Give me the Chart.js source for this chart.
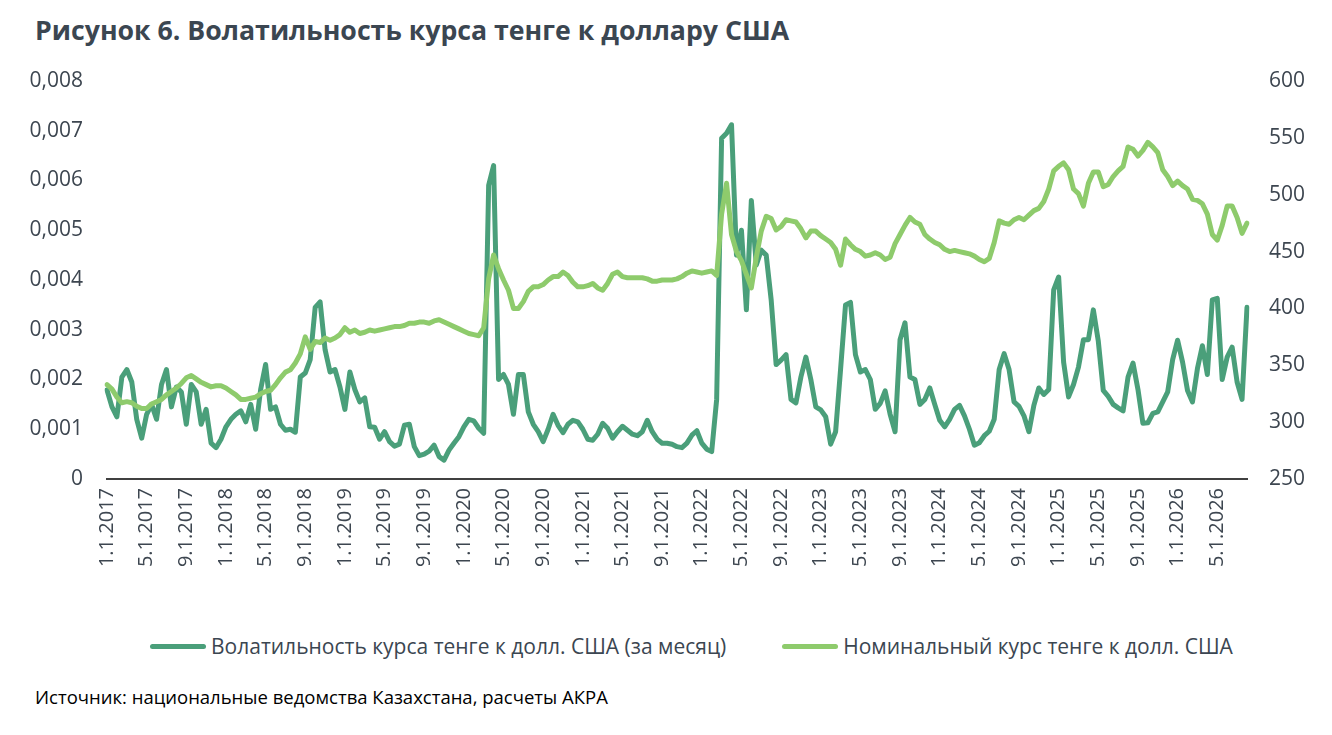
<!DOCTYPE html>
<html lang="ru">
<head>
<meta charset="utf-8">
<title>Волатильность курса тенге</title>
<script src="https://cdn.jsdelivr.net/npm/chart.js@4.4.1/dist/chart.umd.min.js"></script>
<style>
  body { margin: 0; background: #fff; font-family: "Open Sans", sans-serif; }
  #wrap { position: relative; width: 1332px; height: 735px; overflow: hidden; }
  #title { position: absolute; left: 35px; top: 11px; font-weight: 700; font-size: 26.7px; color: #3b4651; white-space: nowrap; }
  #chartBox { position: absolute; left: 0; top: 0; }
  #legend { position: absolute; left: 150px; top: 632px; display: flex; gap: 56px; font-size: 21px; color: #3b4651; white-space: nowrap; }
  .item { display: flex; align-items: center; }
  .swatch { width: 56px; height: 5px; border-radius: 3px; margin-right: 5px; }
  #source { position: absolute; left: 35px; top: 684px; font-size: 18.5px; color: #000; white-space: nowrap; }
</style>
</head>
<body>
<div id="wrap">
  <div id="title">Рисунок 6. Волатильность курса тенге к доллару США</div>
  <canvas id="chartBox" width="1332" height="580"></canvas>
  <div id="legend">
    <div class="item"><span class="swatch" style="background:#4a9f7a"></span>Волатильность курса тенге к долл. США (за месяц)</div>
    <div class="item"><span class="swatch" style="background:#8ecb6c"></span>Номинальный курс тенге к долл. США</div>
  </div>
  <div id="source">Источник: национальные ведомства Казахстана, расчеты АКРА</div>
</div>
<script>
// tick labels shown on the date axis
const tickLabels = [
  '1.1.2017', '5.1.2017', '9.1.2017', '1.1.2018', '5.1.2018', '9.1.2018',
  '1.1.2019', '5.1.2019', '9.1.2019', '1.1.2020', '5.1.2020', '9.1.2020',
  '1.1.2021', '5.1.2021', '9.1.2021', '1.1.2022', '5.1.2022', '9.1.2022',
  '1.1.2023', '5.1.2023', '9.1.2023', '1.1.2024', '5.1.2024', '9.1.2024',
  '1.1.2025', '5.1.2025', '9.1.2025', '1.1.2026', '5.1.2026'
];

const volatility = [
  0.00179, 0.00145, 0.00125, 0.00205, 0.00220, 0.00195, 0.00120, 0.00082, 0.00130, 0.00150,
  0.00120, 0.00190, 0.00220, 0.00145, 0.00185, 0.00175, 0.00110, 0.00190, 0.00175, 0.00110,
  0.00140, 0.00072, 0.00063, 0.00080, 0.00105, 0.00120, 0.00130, 0.00137, 0.00115, 0.00150,
  0.00100, 0.00180, 0.00230, 0.00140, 0.00145, 0.00110, 0.00098, 0.00100, 0.00094, 0.00205,
  0.00213, 0.00240, 0.00345, 0.00356, 0.00260, 0.00215, 0.00220, 0.00185, 0.00140, 0.00215,
  0.00180, 0.00155, 0.00163, 0.00105, 0.00104, 0.00080, 0.00095, 0.00075, 0.00066, 0.00070,
  0.00108, 0.00110, 0.00065, 0.00047, 0.00050, 0.00056, 0.00068, 0.00045, 0.00038, 0.00058,
  0.00072, 0.00085, 0.00105, 0.00120, 0.00117, 0.00102, 0.00092, 0.00590, 0.00630, 0.00200,
  0.00210, 0.00190, 0.00130, 0.00210, 0.00210, 0.00135, 0.00110, 0.00095, 0.00075, 0.00100,
  0.00130, 0.00108, 0.00093, 0.00110, 0.00118, 0.00115, 0.00100, 0.00080, 0.00078, 0.00090,
  0.00112, 0.00102, 0.00082, 0.00095, 0.00106, 0.00098, 0.00090, 0.00087, 0.00095, 0.00118,
  0.00095, 0.00080, 0.00072, 0.00072, 0.00070, 0.00065, 0.00063, 0.00072, 0.00088, 0.00097,
  0.00072, 0.00060, 0.00055, 0.00160, 0.00685, 0.00695, 0.00712, 0.00450, 0.00500, 0.00340,
  0.00560, 0.00430, 0.00460, 0.00450, 0.00360, 0.00230, 0.00239, 0.00250, 0.00160, 0.00153,
  0.00205, 0.00245, 0.00200, 0.00145, 0.00139, 0.00125, 0.00070, 0.00095, 0.00220, 0.00350,
  0.00355, 0.00250, 0.00215, 0.00220, 0.00200, 0.00140, 0.00152, 0.00177, 0.00130, 0.00095,
  0.00280, 0.00314, 0.00205, 0.00200, 0.00150, 0.00160, 0.00183, 0.00150, 0.00118, 0.00105,
  0.00120, 0.00140, 0.00148, 0.00127, 0.00100, 0.00068, 0.00073, 0.00087, 0.00096, 0.00120,
  0.00220, 0.00252, 0.00220, 0.00155, 0.00146, 0.00127, 0.00095, 0.00148, 0.00183, 0.00170,
  0.00180, 0.00380, 0.00406, 0.00235, 0.00165, 0.00190, 0.00225, 0.00280, 0.00280, 0.00340,
  0.00277, 0.00178, 0.00166, 0.00150, 0.00143, 0.00137, 0.00205, 0.00233, 0.00180, 0.00112,
  0.00113, 0.00132, 0.00135, 0.00155, 0.00175, 0.00240, 0.00279, 0.00235, 0.00178, 0.00155,
  0.00222, 0.00268, 0.00210, 0.00360, 0.00363, 0.00200, 0.00245, 0.00265, 0.00195, 0.00160,
  0.00345
];

// nominal KZT/USD rate, same dates
const nominalRate = [
  333, 329, 322, 317, 318, 317, 314, 312, 312, 316,
  318, 320, 324, 327, 330, 334, 339, 341, 338, 335,
  333, 331, 332, 332, 330, 327, 324, 320, 320, 321,
  322, 325, 327, 328, 333, 339, 344, 346, 352, 360,
  375, 364, 371, 370, 374, 372, 374, 377, 383, 379,
  381, 378, 379, 381, 380, 381, 382, 383, 384, 384,
  385, 387, 387, 388, 388, 387, 389, 390, 388, 386,
  384, 382, 380, 378, 377, 376, 383, 426, 447, 435,
  425, 416, 400, 400, 406, 415, 419, 419, 421, 425,
  428, 428, 432, 429, 423, 419, 419, 420, 422, 418,
  416, 422, 430, 432, 428, 427, 427, 427, 427, 426,
  424, 424, 425, 425, 425, 426, 428, 431, 433, 432,
  431, 432, 433, 429, 483, 510, 465, 450, 442, 430,
  418, 445, 468, 481, 479, 469, 472, 478, 477, 476,
  470, 462, 468, 468, 464, 461, 458, 452, 438, 461,
  456, 452, 450, 446, 447, 449, 447, 443, 445, 457,
  465, 473, 480, 476, 474, 465, 461, 458, 456, 452,
  450, 451, 450, 449, 448, 446, 443, 441, 444, 458,
  477, 475, 474, 478, 480, 478, 482, 486, 488, 494,
  505, 521, 525, 528, 522, 505, 501, 490, 510, 520,
  520, 507, 509, 516, 521, 525, 542, 540, 534, 539,
  546, 542, 537, 522, 516, 508, 512, 508, 505, 496,
  495, 492, 483, 465, 460, 473, 490, 490, 480, 466,
  475
];

// dates in m.d.yyyy form, 1st and 16th of each month from Jan 2017
const dates = [];
for (let i = 0; i < volatility.length; i++) {
  const mIdx = Math.floor(i / 2);
  const year = 2017 + Math.floor(mIdx / 12);
  const month = (mIdx % 12) + 1;
  const day = i % 2 === 0 ? 1 : 16;
  dates.push(month + '.' + day + '.' + year);
}

const textColor = '#3d4650';
const darkGreen = '#4a9f7a';
const lightGreen = '#8ecb6c';

const ctx = document.getElementById('chartBox').getContext('2d');

new Chart(ctx, {
  type: 'line',
  data: {
    labels: dates,
    datasets: [
      {
        label: 'Волатильность курса тенге к долл. США (за месяц)',
        data: volatility,
        yAxisID: 'y',
        borderColor: darkGreen,
        backgroundColor: darkGreen,
        borderWidth: 5,
        pointRadius: 0,
        tension: 0,
        borderJoinStyle: 'round',
        borderCapStyle: 'round',
        order: 1
      },
      {
        label: 'Номинальный курс тенге к долл. США',
        data: nominalRate,
        yAxisID: 'y1',
        borderColor: lightGreen,
        backgroundColor: lightGreen,
        borderWidth: 5,
        pointRadius: 0,
        tension: 0,
        borderJoinStyle: 'round',
        borderCapStyle: 'round',
        order: 0
      }
    ]
  },
  options: {
    responsive: false,
    animation: false,
    layout: { padding: { top: 81, left: 0, right: 0, bottom: 0 } },
    plugins: {
      legend: { display: false },
      tooltip: { enabled: false }
    },
    scales: {
      x: {
        type: 'category',
        grid: { display: false, drawTicks: false },
        border: { display: true, color: '#404040', width: 2 },
        ticks: {
          autoSkip: false,
          maxRotation: 90,
          minRotation: 90,
          padding: 9,
          color: textColor,
          font: { family: 'Open Sans', size: 20 },
          callback: function (value) {
            const lab = this.getLabelForValue(value);
            return tickLabels.includes(lab) ? lab : null;
          }
        },
        afterFit: (scale) => { scale.height = 101; }
      },
      y: {
        position: 'left',
        min: 0,
        max: 0.008,
        grid: { display: false, drawTicks: false },
        border: { display: false },
        ticks: {
          stepSize: 0.001,
          padding: 24,
          color: textColor,
          font: { family: 'Open Sans', size: 21 },
          callback: (v) => Math.abs(v) < 1e-9 ? '0' : v.toFixed(3).replace('.', ',')
        },
        afterFit: (scale) => { scale.width = 107; }
      },
      y1: {
        position: 'right',
        min: 250,
        max: 600,
        grid: { display: false, drawTicks: false },
        border: { display: false },
        ticks: {
          stepSize: 50,
          padding: 22,
          color: textColor,
          font: { family: 'Open Sans', size: 21 }
        },
        afterFit: (scale) => { scale.width = 85; }
      }
    }
  }
});
</script>
</body>
</html>
